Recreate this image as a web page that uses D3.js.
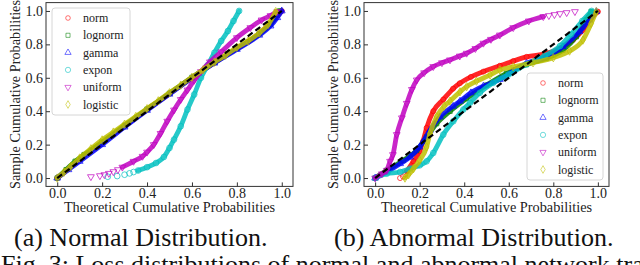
<!DOCTYPE html>
<html>
<head>
<meta charset="utf-8">
<script src="https://cdn.jsdelivr.net/npm/d3@7"></script>
<style>
  html, body { margin: 0; padding: 0; background: #fff; }
  svg { display: block; font-family: 'Liberation Serif', 'Times New Roman', serif; }
</style>
</head>
<body>
<svg id="fig" width="640" height="265"></svg>
<script>
'use strict'

// ---- data ----
const seriesNames = ['norm', 'lognorm', 'gamma', 'expon', 'uniform', 'logistic']
const xTicks = [0, 0.2, 0.4, 0.6, 0.8, 1.0]
const yTicks = [0, 0.2, 0.4, 0.6, 0.8, 1.0]
const captions = ['(a) Normal Distribution.', '(b) Abnormal Distribution.']
const figCaption = 'Fig. 3: Loss distributions of normal and abnormal network traffic.'

// (a) normal distribution
const normalNorm = [[0, 0], [0.05, 0.055], [0.1, 0.112], [0.2, 0.212], [0.3, 0.312], [0.4, 0.41], [0.5, 0.505], [0.6, 0.6], [0.7, 0.69], [0.8, 0.775], [0.85, 0.815], [0.9, 0.865], [0.95, 0.925], [1, 1]]
const normalLognorm = [[0, 0], [0.04, 0.05], [0.08, 0.1], [0.12, 0.14], [0.2, 0.215], [0.3, 0.315], [0.4, 0.412], [0.5, 0.507], [0.6, 0.602], [0.7, 0.692], [0.8, 0.775], [0.9, 0.862], [0.95, 0.92], [0.99, 1]]
const normalGamma = [[0, 0], [0.05, 0.05], [0.1, 0.1], [0.2, 0.2], [0.3, 0.305], [0.4, 0.405], [0.5, 0.502], [0.6, 0.598], [0.7, 0.688], [0.8, 0.77], [0.9, 0.855], [0.95, 0.91], [0.98, 0.96], [1, 1]]
const normalExponTail = [[0.225, 0.008], [0.267, 0.012], [0.3, 0.02], [0.322, 0.028], [0.34, 0.036]]
const normalExpon = [[0.36, 0.045], [0.4, 0.065], [0.44, 0.09], [0.475, 0.126], [0.5, 0.18], [0.52, 0.23], [0.55, 0.31], [0.58, 0.41], [0.61, 0.5], [0.64, 0.6], [0.67, 0.675], [0.7, 0.75], [0.73, 0.82], [0.76, 0.88], [0.785, 0.94], [0.81, 1]]
const normalUniformTail = [[0.15, 0.008], [0.19, 0.014], [0.21, 0.02], [0.23, 0.028], [0.25, 0.038], [0.27, 0.05]]
const normalUniform = [[0.29, 0.065], [0.34, 0.1], [0.38, 0.13], [0.4, 0.155], [0.43, 0.2], [0.46, 0.267], [0.49, 0.34], [0.52, 0.407], [0.55, 0.47], [0.58, 0.527], [0.61, 0.585], [0.64, 0.637], [0.68, 0.695], [0.73, 0.755], [0.8, 0.84], [0.86, 0.9], [0.91, 0.946], [0.95, 0.972], [0.98, 0.996]]
const normalLogistic = [[0, 0], [0.03, 0.035], [0.06, 0.07], [0.1, 0.12], [0.15, 0.175], [0.2, 0.228], [0.25, 0.275], [0.3, 0.322], [0.35, 0.368], [0.4, 0.415], [0.45, 0.462], [0.5, 0.51], [0.55, 0.556], [0.6, 0.603], [0.65, 0.648], [0.7, 0.693], [0.75, 0.735], [0.8, 0.782], [0.85, 0.82], [0.9, 0.868], [0.94, 0.92], [0.973, 0.996]]

// (b) abnormal distribution
const abnormalNormTail = [[0.112, 0], [0.125, 0.01], [0.135, 0.022]]
const abnormalNorm = [[0.142, 0.04], [0.172, 0.1], [0.2, 0.16], [0.215, 0.22], [0.231, 0.3], [0.261, 0.4], [0.306, 0.47], [0.35, 0.535], [0.38, 0.567], [0.43, 0.605], [0.486, 0.637], [0.56, 0.672], [0.62, 0.7], [0.68, 0.725], [0.77, 0.746], [0.83, 0.776], [0.888, 0.826], [0.933, 0.886], [0.97, 0.956], [1, 0.996]]
const abnormalLognorm = [[0, 0], [0.052, 0.046], [0.127, 0.106], [0.187, 0.166], [0.231, 0.246], [0.276, 0.326], [0.336, 0.4], [0.41, 0.476], [0.5, 0.556], [0.59, 0.626], [0.679, 0.68], [0.769, 0.716], [0.843, 0.766], [0.903, 0.846], [0.948, 0.946], [0.97, 0.996]]
const abnormalGamma = [[0, 0], [0.052, 0.036], [0.112, 0.086], [0.157, 0.126], [0.2, 0.186], [0.246, 0.286], [0.291, 0.366], [0.35, 0.43], [0.381, 0.46], [0.43, 0.51], [0.486, 0.55], [0.56, 0.59], [0.62, 0.64], [0.679, 0.686], [0.769, 0.726], [0.843, 0.786], [0.918, 0.876], [0.963, 0.946], [0.993, 0.996]]
const abnormalExpon = [[0, 0], [0.052, 0.026], [0.112, 0.036], [0.157, 0.056], [0.2, 0.076], [0.231, 0.1], [0.261, 0.15], [0.306, 0.26], [0.351, 0.34], [0.396, 0.41], [0.426, 0.45], [0.47, 0.51], [0.53, 0.57], [0.6, 0.62], [0.68, 0.68], [0.76, 0.73], [0.83, 0.79], [0.88, 0.86], [0.93, 0.94], [0.972, 1]]
const abnormalUniform = [[0, 0], [0.03, 0.025], [0.052, 0.046], [0.067, 0.1], [0.08, 0.14], [0.097, 0.26], [0.12, 0.36], [0.142, 0.447], [0.165, 0.53], [0.187, 0.587], [0.22, 0.63], [0.261, 0.667], [0.3, 0.69], [0.336, 0.707], [0.38, 0.73], [0.411, 0.747], [0.45, 0.775], [0.486, 0.807], [0.52, 0.83], [0.56, 0.856], [0.62, 0.9], [0.69, 0.94], [0.755, 0.966]]
const abnormalUniformTail = [[0.78, 0.972], [0.805, 0.978], [0.83, 0.984], [0.86, 0.99], [0.897, 0.996]]
const abnormalLogistic = [[0.134, 0], [0.15, 0.02], [0.172, 0.056], [0.2, 0.106], [0.231, 0.186], [0.246, 0.266], [0.276, 0.366], [0.31, 0.43], [0.336, 0.46], [0.381, 0.516], [0.411, 0.547], [0.455, 0.58], [0.516, 0.617], [0.56, 0.647], [0.62, 0.666], [0.709, 0.69], [0.8, 0.72], [0.873, 0.76], [0.933, 0.826], [0.97, 0.926], [0.993, 0.996]]

// ---- styles ----
const colors = { norm: '#ff0000', lognorm: '#008000', gamma: '#0000ff', expon: '#00bfbf', uniform: '#bf00bf', logistic: '#bfbf00' }
const symbols = { norm: d3.symbolCircle, lognorm: d3.symbolSquare, gamma: d3.symbolTriangle, expon: d3.symbolCircle, uniform: d3.symbolTriangle, logistic: d3.symbolDiamond }
const symbolRot = { uniform: 180 }

const panels = [
  {
    box: { left: 46, right: 293, top: 2.6, bottom: 186.4 },
    series: {
      norm: [normalNorm, []], lognorm: [normalLognorm, []], gamma: [normalGamma, []],
      expon: [normalExpon, normalExponTail], uniform: [normalUniform, normalUniformTail], logistic: [normalLogistic, []]
    },
    legend: { x: 52, y: 8, w: 78, h: 107 },
    caption: captions[0], captionX: 14
  },
  {
    box: { left: 364, right: 609, top: 2.6, bottom: 186.4 },
    series: {
      norm: [abnormalNorm, abnormalNormTail], lognorm: [abnormalLognorm, []], gamma: [abnormalGamma, []],
      expon: [abnormalExpon, []], uniform: [abnormalUniform, abnormalUniformTail], logistic: [abnormalLogistic, []]
    },
    legend: { x: 527, y: 73, w: 76, h: 107 },
    caption: captions[1], captionX: 334
  }
]

const svg = d3.select('#fig')

function drawPanel (p) {
  const x = d3.scaleLinear().domain([-0.05, 1.05]).range([p.box.left, p.box.right])
  const y = d3.scaleLinear().domain([-0.05, 1.05]).range([p.box.bottom, p.box.top])
  const g = svg.append('g')

  const clipId = 'clip' + p.box.left
  g.append('clipPath').attr('id', clipId).append('rect')
    .attr('x', p.box.left).attr('y', p.box.top)
    .attr('width', p.box.right - p.box.left).attr('height', p.box.bottom - p.box.top)

  const plot = g.append('g').attr('clip-path', 'url(#' + clipId + ')')
  const line = d3.line().x(d => x(d[0])).y(d => y(d[1])).curve(d3.curveMonotoneX)

  seriesNames.forEach(name => {
    const [pts, tail] = p.series[name]
    const c = colors[name]
    plot.append('path')
      .attr('d', line(pts))
      .attr('fill', 'none')
      .attr('stroke', c)
      .attr('stroke-opacity', 0.85)
      .attr('stroke-width', 4.8)
      .attr('stroke-linecap', 'round')
    const sym = d3.symbol().type(symbols[name]).size(name === 'expon' ? 26 : 20)
    plot.selectAll(null)
      .data(pts.concat(tail))
      .enter()
      .append('path')
      .attr('d', sym)
      .attr('transform', d => 'translate(' + x(d[0]) + ',' + y(d[1]) + ') rotate(' + (symbolRot[name] || 0) + ')')
      .attr('fill', 'none')
      .attr('stroke', c)
      .attr('stroke-opacity', 0.7)
      .attr('stroke-width', 1)
  })

  // diagonal reference
  plot.append('line')
    .attr('x1', x(0)).attr('y1', y(0)).attr('x2', x(1)).attr('y2', y(1))
    .attr('stroke', '#000').attr('stroke-width', 2.2).attr('stroke-dasharray', '6,3.5')

  // frame
  g.append('rect')
    .attr('x', p.box.left).attr('y', p.box.top)
    .attr('width', p.box.right - p.box.left).attr('height', p.box.bottom - p.box.top)
    .attr('fill', 'none').attr('stroke', '#333').attr('stroke-width', 1)

  // axes (ticks pointing inward)
  const fmt = d3.format('.1f')
  const xa = g.append('g').attr('transform', 'translate(0,' + p.box.bottom + ')')
    .call(d3.axisBottom(x).tickValues(xTicks).tickFormat(fmt).tickSizeInner(-4).tickSizeOuter(0).tickPadding(1.5))
  const ya = g.append('g').attr('transform', 'translate(' + p.box.left + ',0)')
    .call(d3.axisLeft(y).tickValues(yTicks).tickFormat(fmt).tickSizeInner(-4).tickSizeOuter(0).tickPadding(3))
  ;[xa, ya].forEach(a => {
    a.select('.domain').remove()
    a.selectAll('line').attr('stroke', '#333')
    a.selectAll('text').attr('font-size', 14).attr('fill', '#222').attr('font-family', 'Liberation Serif')
  })
  xa.selectAll('text').attr('dy', '0.71em')

  const midX = (p.box.left + p.box.right) / 2
  const midY = (p.box.top + p.box.bottom) / 2
  g.append('text')
    .attr('x', midX).attr('y', 211.5)
    .attr('text-anchor', 'middle').attr('font-size', 14.3).attr('fill', '#222')
    .text('Theoretical Cumulative Probabilities')
  g.append('text')
    .attr('transform', 'translate(' + (p.box.left - 26) + ',' + midY + ') rotate(-90)')
    .attr('text-anchor', 'middle').attr('font-size', 14.3).attr('fill', '#222')
    .text('Sample Cumulative Probabilities')

  // legend
  const L = p.legend
  const lg = g.append('g')
  lg.append('rect')
    .attr('x', L.x).attr('y', L.y).attr('width', L.w).attr('height', L.h)
    .attr('rx', 3).attr('fill', '#fff').attr('fill-opacity', 0.8)
    .attr('stroke', '#d6d6d6').attr('stroke-width', 1)
  seriesNames.forEach((name, i) => {
    const cy = L.y + 10 + i * 17.3
    lg.append('path')
      .attr('d', d3.symbol().type(symbols[name]).size(name === 'expon' ? 22 : 17)())
      .attr('transform', 'translate(' + (L.x + 16) + ',' + cy + ') rotate(' + (symbolRot[name] || 0) + ')')
      .attr('fill', 'none').attr('stroke', colors[name]).attr('stroke-opacity', 0.55).attr('stroke-width', 1)
    lg.append('text')
      .attr('x', L.x + 31).attr('y', cy + 4)
      .attr('font-size', 12).attr('fill', '#222')
      .text(name)
  })

  svg.append('text')
    .attr('x', p.captionX).attr('y', 245.5)
    .attr('font-size', 26).attr('fill', '#111')
    .text(p.caption)
}

panels.forEach(drawPanel)

// next caption line, cut off by the bottom edge as in the original
svg.append('text')
  .attr('x', 1).attr('y', 273)
  .attr('font-size', 26).attr('fill', '#111')
  .text(figCaption)
</script>
</body>
</html>
